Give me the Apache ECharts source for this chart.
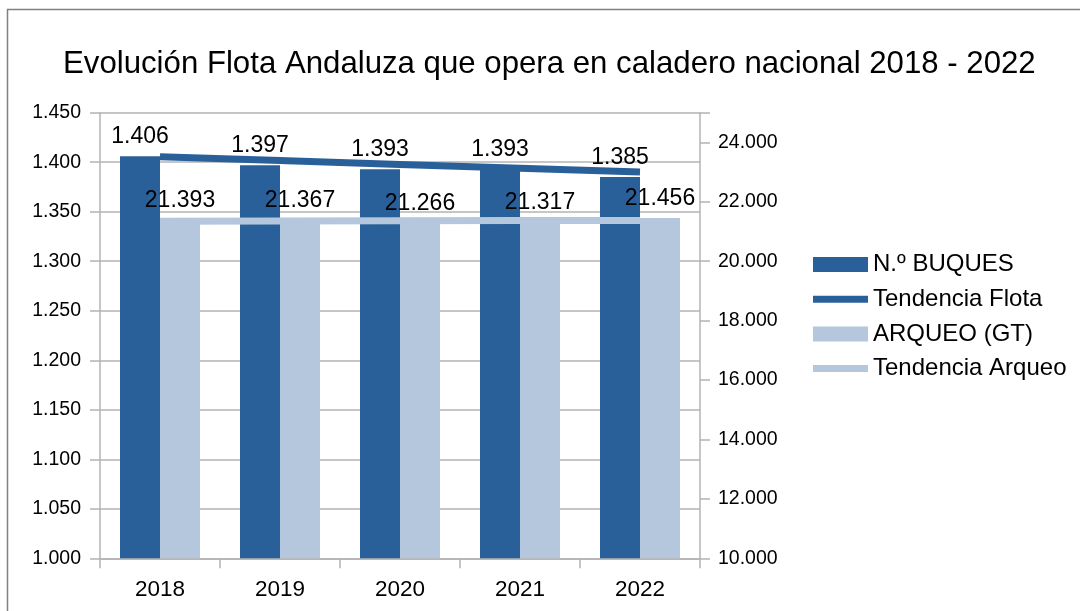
<!DOCTYPE html>
<html>
<head>
<meta charset="utf-8">
<script src="https://cdn.jsdelivr.net/npm/echarts@6/dist/echarts.min.js"></script>
<style>
html,body{margin:0;padding:0;background:#fff;}
#c{width:1080px;height:611px;}
</style>
</head>
<body>
<div id="c"></div>
<script>
const titleText = 'Evolución Flota Andaluza que opera en caladero nacional 2018 - 2022';
const categories = ['2018', '2019', '2020', '2021', '2022'];
const buques = [1406, 1397, 1393, 1393, 1385];
const arqueo = [21393, 21367, 21266, 21317, 21456];
// trend lines (value at each category centre)
const tendFlota = [1405.5, 1401.7, 1397.8, 1394.0, 1390.2];
const tendArqueo = [21345, 21353, 21360, 21368, 21375];
const names = ['N.º BUQUES', 'Tendencia Flota', 'ARQUEO (GT)', 'Tendencia Arqueo'];

const DARK = '#2a6099', LIGHT = '#b4c7dc', GRID = '#b3b3b3';
const fmt = v => Math.round(v).toString().replace(/\B(?=(\d{3})+(?!\d))/g, '.');
const FONT = '"Liberation Sans", Arial, sans-serif';
const lineIcon = 'path://M0,0 H55 V7 H0 Z';

const chart = echarts.init(document.getElementById('c'), null, {renderer: 'canvas'});
chart.setOption({
  animation: false,
  textStyle: {fontFamily: FONT, color: '#000'},
  graphic: [{
    type: 'polyline', silent: true,
    shape: {points: [[7.5, 2000], [7.5, 9.5], [2000, 9.5]]},
    style: {stroke: '#808080', lineWidth: 1.5, fill: null}
  }],
  title: {
    text: titleText, left: 58, top: 44,
    textStyle: {fontFamily: FONT, fontSize: 31.2, fontWeight: 'normal', color: '#000'}
  },
  legend: {
    orient: 'vertical', left: 808, top: 247.5,
    itemWidth: 55, itemHeight: 15, itemGap: 10.7,
    textStyle: {fontFamily: FONT, fontSize: 24, color: '#000'},
    data: [
      {name: names[0], icon: 'rect'},
      {name: names[1], icon: lineIcon},
      {name: names[2], icon: 'rect'},
      {name: names[3], icon: lineIcon}
    ]
  },
  grid: {left: 100, right: 380, top: 112.7, bottom: 52.7, containLabel: false},
  xAxis: {
    type: 'category', data: categories, boundaryGap: true,
    axisLine: {lineStyle: {color: GRID, width: 1.5}},
    axisTick: {show: true, length: 10, lineStyle: {color: GRID, width: 1.5}},
    axisLabel: {fontFamily: FONT, fontSize: 22.5, color: '#000', margin: 20}
  },
  yAxis: [{
    type: 'value', min: 1000, max: 1450, interval: 50, position: 'left',
    axisLine: {show: true, lineStyle: {color: GRID, width: 1.5}},
    axisTick: {show: true, length: 10, lineStyle: {color: GRID, width: 1.5}},
    splitLine: {show: true, lineStyle: {color: GRID, width: 1.5}},
    axisLabel: {fontFamily: FONT, fontSize: 19.5, color: '#000', margin: 19, formatter: fmt}
  }, {
    type: 'value', min: 10000, max: 25000, interval: 2000, position: 'right',
    axisLine: {show: true, lineStyle: {color: GRID, width: 1.5}},
    axisTick: {show: true, length: 10, lineStyle: {color: GRID, width: 1.5}},
    splitLine: {show: false},
    axisLabel: {fontFamily: FONT, fontSize: 19.5, color: '#000', margin: 18,
      formatter: v => (v > 24000 ? '' : fmt(v))}
  }],
  series: [{
    name: names[0], type: 'bar', yAxisIndex: 0, data: buques,
    barWidth: 40, barGap: '0%', z: 2,
    itemStyle: {color: DARK},
    label: {show: true, position: 'top', distance: 8, fontFamily: FONT, fontSize: 23, color: '#000', formatter: p => fmt(p.value)}
  }, {
    name: names[2], type: 'bar', yAxisIndex: 1, data: arqueo,
    barWidth: 40, barGap: '0%', z: 2,
    itemStyle: {color: LIGHT},
    label: {show: true, position: 'top', distance: 8, fontFamily: FONT, fontSize: 23, color: '#000', formatter: p => fmt(p.value)}
  }, {
    name: names[1], type: 'line', yAxisIndex: 0, data: tendFlota,
    symbol: 'none', z: 3,
    lineStyle: {color: DARK, width: 7}, itemStyle: {color: DARK}
  }, {
    name: names[3], type: 'line', yAxisIndex: 1, data: tendArqueo,
    symbol: 'none', z: 3,
    lineStyle: {color: LIGHT, width: 7}, itemStyle: {color: LIGHT}
  }]
});
</script>
</body>
</html>
